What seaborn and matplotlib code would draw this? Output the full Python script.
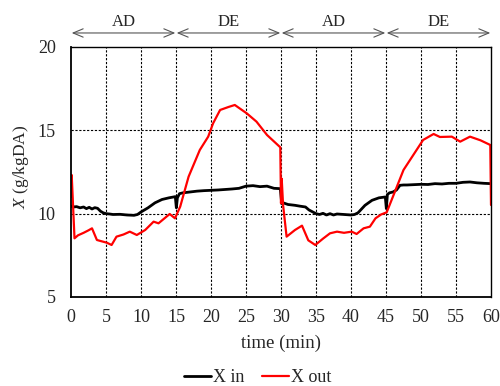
import numpy as np
import pandas as pd
import seaborn as sns
import matplotlib.pyplot as plt
from matplotlib.lines import Line2D

# ---- data ----
t_in = [0.0, 0.3, 0.8, 1.3, 1.8, 2.2, 2.6, 3.0, 3.4, 3.8, 4.2, 4.6, 5.0, 5.5, 6.0, 7.0, 8.0, 9.0, 9.5,
        10.0, 11.0, 12.0, 13.0, 14.0, 14.9, 15.05, 15.2, 15.5, 16.0, 17.0, 18.0, 19.0, 20.0, 21.0, 22.0,
        23.0, 24.0, 25.0, 26.0, 27.0, 28.0, 29.0, 29.9,
        30.1, 30.3, 31.0, 32.0, 32.7, 33.5, 34.0, 35.0, 35.5, 36.0, 36.5, 37.0, 37.5, 38.0, 39.0, 40.0,
        40.5, 41.0, 42.0, 43.0, 44.0, 44.9, 45.05, 45.2, 45.5, 46.0, 46.5, 47.0, 47.5, 48.0, 49.0, 50.0,
        51.0, 52.0, 53.0, 54.0, 55.0, 56.0, 57.0, 58.0, 59.0, 60.0]
x_in = [10.45, 10.40, 10.42, 10.35, 10.40, 10.30, 10.38, 10.28, 10.36, 10.32, 10.15, 10.05, 10.00, 9.98, 9.95,
        9.96, 9.92, 9.90, 9.95, 10.10, 10.35, 10.65, 10.85, 10.95, 11.02, 10.35, 10.95, 11.20, 11.25, 11.30,
        11.35, 11.38, 11.40, 11.42, 11.45, 11.48, 11.52, 11.65, 11.68, 11.62, 11.65, 11.52, 11.50,
        10.60, 10.65, 10.55, 10.50, 10.45, 10.40, 10.22, 10.00, 9.95, 10.02, 9.92, 10.00, 9.92, 9.98,
        9.95, 9.92, 9.95, 10.05, 10.50, 10.80, 10.95, 11.00, 10.30, 11.15, 11.25, 11.30, 11.42, 11.70,
        11.72, 11.72, 11.74, 11.76, 11.75, 11.80, 11.78, 11.82, 11.82, 11.88, 11.90, 11.85, 11.82, 11.80]

t_out = [0.0, 0.1, 0.5, 1.0, 1.8, 2.5, 3.0, 3.7, 4.3, 5.1, 5.8, 6.5, 7.5, 8.4, 9.4, 10.6, 11.8, 12.5,
         13.3, 14.1, 14.85, 15.6, 16.8, 18.4, 19.6, 20.3, 21.3, 22.5, 23.4, 25.1, 26.5, 28.0, 29.9,
         30.0, 30.1, 30.3, 30.8, 32.0, 33.0, 33.9, 34.9, 36.0, 37.0, 38.0, 39.0, 40.1, 40.8, 41.8, 42.7,
         43.5, 44.3, 45.1, 45.8, 47.5, 48.9, 50.3, 51.8, 52.7, 54.4, 55.6, 57.0, 58.5, 59.9, 60.0]
x_out = [11.0, 12.32, 8.52, 8.70, 8.85, 9.00, 9.12, 8.42, 8.35, 8.26, 8.12, 8.62, 8.75, 8.92, 8.72, 9.02,
         9.52, 9.42, 9.70, 9.98, 9.72, 10.42, 12.22, 13.82, 14.62, 15.42, 16.22, 16.40, 16.52, 16.02,
         15.52, 14.72, 13.98,
         10.62, 12.10, 10.50, 8.62, 9.02, 9.28, 8.40, 8.12, 8.50, 8.82, 8.92, 8.85, 8.92, 8.78, 9.12,
         9.22, 9.72, 9.95, 10.08, 10.82, 12.62, 13.52, 14.42, 14.78, 14.60, 14.62, 14.32, 14.62, 14.40,
         14.12, 10.52]

phase_labels = ["AD", "DE", "AD", "DE"]
phase_edges = [0, 15, 30, 45, 60]
x_ticks = list(range(0, 61, 5))
y_ticks = [5, 10, 15, 20]

df = pd.concat([
    pd.DataFrame({"time": t_in, "X": x_in, "series": "X in"}),
    pd.DataFrame({"time": t_out, "X": x_out, "series": "X out"}),
])

sns.set_theme(style="white")
plt.rcParams["font.family"] = ["Liberation Serif", "DejaVu Serif"]
plt.rcParams["mathtext.fontset"] = "custom"
plt.rcParams["mathtext.it"] = "Liberation Serif:italic"
plt.rcParams["mathtext.rm"] = "Liberation Serif"

fig = plt.figure(figsize=(5.0, 3.86), dpi=100)
ax = fig.add_axes([0.142, 0.2306, 0.84, 0.6477])

sns.lineplot(data=df, x="time", y="X", hue="series", palette={"X in": "black", "X out": "#ff0000"},
             ax=ax, estimator=None, sort=False, legend=False)
for ln, lw in zip(ax.lines, [2.0, 1.6]):
    ln.set_linewidth(lw)

ax.set_xlim(0, 60)
ax.set_ylim(5, 20)
ax.set_xticks(x_ticks)
ax.set_yticks(y_ticks)
ax.tick_params(axis="both", labelsize=13, length=0)
ax.tick_params(axis="y", pad=11)
ax.tick_params(axis="x", pad=9)
ax.set_xlabel("time (min)", fontsize=13.5, labelpad=6)
ax.set_ylabel("$X$ (g/kgDA)", fontsize=12.5)
ax.yaxis.set_label_coords(-0.096, 0.52)

for xv in x_ticks[1:-1]:
    ax.axvline(xv, color="black", lw=0.8, ls=(0, (2, 1.5)), zorder=0)
for yv in [10, 15]:
    ax.axhline(yv, color="black", lw=0.8, ls=(0, (2, 1.5)), zorder=0)

for s in ax.spines.values():
    s.set_color("black")
    s.set_linewidth(1.0)
ax.spines["left"].set_linewidth(1.3)
ax.spines["bottom"].set_linewidth(1.3)

for i, lab in enumerate(phase_labels):
    a, b = phase_edges[i], phase_edges[i + 1]
    ax.annotate("", xy=(a + 0.1, 1.056), xytext=(b - 0.1, 1.056),
                xycoords=("data", "axes fraction"), textcoords=("data", "axes fraction"),
                arrowprops=dict(arrowstyle="<->,head_length=0.6,head_width=0.25", color="#555555", lw=0.8,
                                shrinkA=0, shrinkB=0),
                annotation_clip=False)
    ax.text((a + b) / 2, 1.10, lab, transform=ax.get_xaxis_transform(), ha="center", va="center",
            fontsize=12)

handles = [Line2D([], [], color="black", lw=2.0), Line2D([], [], color="#ff0000", lw=1.6)]
fig.legend(handles, ["X in", "X out"], loc="center", bbox_to_anchor=(0.515, 0.022), ncol=2,
           frameon=False, fontsize=13, handlelength=1.5, handletextpad=0.1, columnspacing=1.0)

fig.savefig("out.png", dpi=100)
